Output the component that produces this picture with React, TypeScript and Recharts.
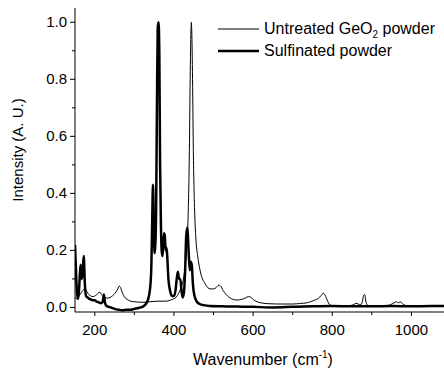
import React from "react";
import { LineChart, Line, XAxis, YAxis, Legend } from "recharts";

// Raman spectra (wavenumber in cm-1, normalised intensity)
const untreatedX = [
  150, 155, 160, 165, 170, 175, 180, 185, 190, 195, 200, 205, 210, 213, 217, 222, 228, 235, 242, 248,
  254, 258, 262, 265, 270, 276, 282, 290, 300, 320, 340, 360, 380, 395, 405, 412, 418, 424, 428, 432,
  436, 439, 441, 443, 444, 445, 447, 449, 452, 456, 460, 466, 472, 478, 485, 492, 500, 507, 513, 518,
  524, 532, 540, 550, 560, 570, 580, 588, 594, 600, 610, 620, 640, 660, 680, 700, 720, 735, 745, 755,
  765, 772, 777, 781, 786, 792, 800, 820, 840, 855, 860, 865, 872, 876, 879, 882, 885, 890, 910, 940,
  955, 962, 967, 972, 978, 990, 1020, 1060, 1100,
];
const untreatedY = [
  0.035, 0.03, 0.04, 0.05, 0.06, 0.065, 0.055, 0.045, 0.04, 0.038, 0.04, 0.045, 0.052, 0.053, 0.045, 0.038, 0.033, 0.033, 0.038, 0.045,
  0.055, 0.065, 0.075, 0.07, 0.05, 0.035, 0.028, 0.022, 0.02, 0.018, 0.02, 0.022, 0.022, 0.028, 0.035, 0.05, 0.07, 0.1, 0.14, 0.2,
  0.33, 0.55, 0.8, 0.97, 1.0, 0.97, 0.8, 0.55, 0.35, 0.23, 0.18, 0.13, 0.1, 0.085, 0.07, 0.065, 0.065, 0.07, 0.078, 0.075,
  0.06, 0.045, 0.035, 0.028, 0.026, 0.028, 0.033, 0.038, 0.036, 0.028, 0.02, 0.016, 0.013, 0.012, 0.012, 0.012, 0.014, 0.016, 0.02, 0.025,
  0.032, 0.042, 0.05, 0.045, 0.03, 0.012, 0.006, 0.005, 0.006, 0.01, 0.015, 0.012, 0.01, 0.02, 0.042, 0.045, 0.02, 0.007, 0.006, 0.007,
  0.015, 0.02, 0.016, 0.02, 0.012, 0.006, 0.006, 0.006, 0.006,
];

const sulfinatedX = [
  150, 152, 155, 158, 161, 164, 167, 169, 172, 175, 178, 182, 186, 190, 195, 200, 205, 210, 215, 220,
  223, 226, 230, 240, 250, 260, 270, 280, 290, 300, 310, 320, 328, 335, 340, 343, 345, 347, 349, 351,
  353, 355, 357, 359, 361, 363, 365, 367, 369, 371, 373, 375, 377, 379, 381, 383, 386, 390, 395, 400,
  404, 407, 410, 413, 416, 419, 422, 425, 428, 431, 434, 437, 440, 442, 445, 448, 452, 458, 465, 475,
  490, 520, 560, 600, 650, 700, 750, 800, 850, 900, 950, 1000, 1050, 1100,
];
const sulfinatedY = [
  0.22, 0.15, 0.05, 0.03, 0.08, 0.15, 0.1, 0.12, 0.18, 0.08, 0.04, 0.035, 0.03, 0.028, 0.025, 0.025, 0.02, 0.018, 0.015, 0.02,
  0.045, 0.015, 0.005, 0.0, -0.005, -0.008, -0.01, -0.008, -0.008, -0.005, -0.002, 0.002, 0.01, 0.03, 0.07, 0.15, 0.3, 0.43, 0.3, 0.19,
  0.22, 0.35, 0.7, 0.98, 1.0, 0.9, 0.5, 0.3, 0.2, 0.18, 0.22, 0.26, 0.25, 0.2, 0.21, 0.18, 0.1, 0.06, 0.04, 0.04,
  0.06, 0.1, 0.125, 0.1, 0.1, 0.06, 0.035, 0.05, 0.12, 0.25, 0.28, 0.2, 0.13, 0.16, 0.15, 0.08, 0.04, 0.02, 0.012, 0.008,
  0.005, 0.004, 0.003, 0.002, 0.0, 0.002, 0.004, 0.005, 0.004, 0.004, 0.005, 0.004, 0.005, 0.005,
];

const xTicks = [200, 300, 400, 500, 600, 700, 800, 900, 1000];
const yTicks = [0, 0.1, 0.2, 0.3, 0.4, 0.5, 0.6, 0.7, 0.8, 0.9, 1.0];

const untreated = untreatedX.map((x, i) => ({ x, y: untreatedY[i] }));
const sulfinated = sulfinatedX.map((x, i) => ({ x, y: sulfinatedY[i] }));

const FONT = "Arial, 'Liberation Sans', sans-serif";

// bottom / top ticks: label only every 200
const XTick = (props: any) => {
  const { x, y, payload, dir = 1, showLabel = true } = props;
  const major = payload.value % 200 === 0;
  return (
    <g>
      <line x1={x} x2={x} y1={y} y2={y + dir * (major ? 4 : 3)} stroke="#000" />
      {showLabel && major && (
        <text x={x} y={y + 23} textAnchor="middle" fontSize={15} fontFamily={FONT} fill="#000">
          {payload.value}
        </text>
      )}
    </g>
  );
};

const YTick = (props: any) => {
  const { x, y, payload } = props;
  const major = Math.round(payload.value * 10) % 2 === 0;
  return (
    <g>
      <line x1={x} x2={x - (major ? 5 : 3)} y1={y} y2={y} stroke="#000" />
      {major && (
        <text x={x - 8} y={y + 5} textAnchor="end" fontSize={15} fontFamily={FONT} fill="#000">
          {payload.value.toFixed(1)}
        </text>
      )}
    </g>
  );
};

const renderLegend = () => (
  <div style={{ fontFamily: FONT, fontSize: 16, color: "#000" }}>
    <div style={{ display: "flex", alignItems: "center", height: 22 }}>
      <svg width={41} height={6}>
        <line x1={0} x2={41} y1={3} y2={3} stroke="#000" strokeWidth={1} />
      </svg>
      <span style={{ marginLeft: 5, whiteSpace: "nowrap", lineHeight: "22px" }}>
        Untreated GeO<sub style={{ fontSize: 10, lineHeight: 0 }}>2</sub> powder
      </span>
    </div>
    <div style={{ display: "flex", alignItems: "center", height: 22 }}>
      <svg width={41} height={6}>
        <line x1={0} x2={41} y1={3} y2={3} stroke="#000" strokeWidth={2.5} />
      </svg>
      <span style={{ marginLeft: 5, whiteSpace: "nowrap", lineHeight: "22px" }}>Sulfinated powder</span>
    </div>
  </div>
);

export default function App() {
  return (
    <div
      style={{
        position: "absolute",
        left: 0,
        top: 0,
        width: 444,
        height: 369,
        overflow: "hidden",
        background: "#fff",
      }}
    >
      <LineChart width={470} height={369} margin={{ top: 8, right: 19, bottom: 0, left: 0 }}>
        <XAxis
          type="number"
          dataKey="x"
          domain={[150, 1100]}
          allowDataOverflow
          ticks={xTicks}
          tick={<XTick />}
          tickLine={false}
          tickSize={0}
          tickMargin={0}
          height={57}
          axisLine={{ stroke: "#000" }}
          label={(p: any) => (
            <text x={263} y={365} textAnchor="middle" fontSize={16} fontFamily={FONT} fill="#000">
              Wavenumber (cm
              <tspan dy={-7} fontSize={10}>
                -1
              </tspan>
              <tspan dy={7}>)</tspan>
            </text>
          )}
        />
        <XAxis
          xAxisId="top"
          orientation="top"
          type="number"
          dataKey="x"
          domain={[150, 1100]}
          allowDataOverflow
          ticks={xTicks}
          tick={<XTick dir={-1} showLabel={false} />}
          tickLine={false}
          tickSize={0}
          tickMargin={0}
          height={0}
          axisLine={{ stroke: "#000" }}
        />
        <YAxis
          type="number"
          dataKey="y"
          domain={[-0.016, 1.05]}
          allowDataOverflow
          ticks={yTicks}
          tick={<YTick />}
          tickLine={false}
          tickSize={0}
          tickMargin={0}
          width={75}
          axisLine={{ stroke: "#000" }}
          label={(p: any) => (
            <text
              x={23}
              y={150}
              transform="rotate(-90 23 150)"
              textAnchor="middle"
              fontSize={15}
              fontFamily={FONT}
              fill="#000"
            >
              Intensity (A. U.)
            </text>
          )}
        />
        <Legend
          layout="horizontal"
          verticalAlign="middle"
          content={renderLegend}
          wrapperStyle={{ left: 218, top: 18, width: "auto" }}
        />
        <Line
          data={untreated}
          dataKey="y"
          name="Untreated GeO2 powder"
          type="monotone"
          stroke="#000"
          strokeWidth={1}
          dot={false}
          isAnimationActive={false}
        />
        <Line
          data={sulfinated}
          dataKey="y"
          name="Sulfinated powder"
          type="monotone"
          stroke="#000"
          strokeWidth={2.5}
          dot={false}
          isAnimationActive={false}
        />
      </LineChart>
    </div>
  );
}
